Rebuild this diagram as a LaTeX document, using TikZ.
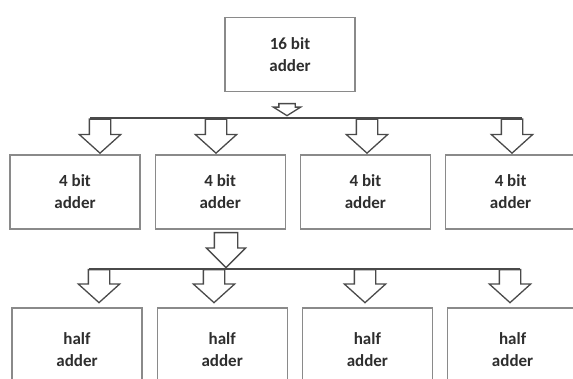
\documentclass[tikz,border=0pt]{standalone}
\usepackage{fontspec}
\setmainfont{Carlito}
\usetikzlibrary{positioning,shapes.arrows}

\definecolor{boxgray}{HTML}{8A8A8A}
\definecolor{linegray}{HTML}{4A4A4A}
\definecolor{textgray}{HTML}{2E2E2E}

\tikzset{
  block/.style={draw=boxgray, line width=1.2pt, minimum width=130pt, minimum height=74pt,
    inner sep=0pt, align=center, text=textgray, font=\fontsize{17}{22}\selectfont\bfseries},
  halfbox/.style={block, minimum height=84pt},
  fatarrow/.style={single arrow, draw=linegray, fill=white, line width=1.3pt,
    shape border rotate=270, inner xsep=10pt, inner ysep=0pt, minimum width=40pt, minimum height=34pt,
    single arrow head extend=10pt, single arrow tip angle=96},
  bus/.style={draw=linegray, line width=2pt}
}

\begin{document}
\begin{tikzpicture}[x=1pt,y=1pt]
  \clip (0,0) rectangle (573,-379);

  % Define nodes
  \node[block]                     (add16) at (290,-54.5) {16 bit\\adder};

  \node[block]                     (add4a) at (75,-192) {4 bit\\adder};
  \node[block, right=14pt of add4a] (add4b) {4 bit\\adder};
  \node[block, right=14pt of add4b] (add4c) {4 bit\\adder};
  \node[block, right=14pt of add4c] (add4d) {4 bit\\adder};

  \node[halfbox]                     (ha1) at (77,-350) {half\\adder};
  \node[halfbox, right=14pt of ha1]  (ha2) {half\\adder};
  \node[halfbox, right=14pt of ha2]  (ha3) {half\\adder};
  \node[halfbox, right=14pt of ha3]  (ha4) {half\\adder};

  % Block arrows
  \node[fatarrow, anchor=tail, inner xsep=7.5pt, minimum width=26pt, minimum height=12pt,
        single arrow head extend=5.5pt, single arrow tip angle=116] (split16) at (287,-103) {};

  \node[fatarrow, anchor=tail] (d1) at (100,-118.5) {};
  \node[fatarrow, anchor=tail] (d2) at (216,-118.5) {};
  \node[fatarrow, anchor=tail] (d3) at (367,-118.5) {};
  \node[fatarrow, anchor=tail] (d4) at (512,-118.5) {};

  \node[fatarrow, anchor=tail, inner xsep=11pt, minimum width=38pt, minimum height=35pt,
        single arrow head extend=8pt, single arrow tip angle=90] (split4) at (226,-232) {};

  \node[fatarrow, anchor=tail, minimum height=33pt] (h1) at (99,-269) {};
  \node[fatarrow, anchor=tail, minimum height=33pt] (h2) at (214,-269) {};
  \node[fatarrow, anchor=tail, minimum height=33pt] (h3) at (365,-269) {};
  \node[fatarrow, anchor=tail, minimum height=33pt] (h4) at (510,-269) {};

  % Connect the nodes
  \draw[bus] ([xshift=-10pt]d1.tail) -- ([xshift=10pt]d4.tail);
  \draw[bus] ([xshift=-10pt]h1.tail) -- ([xshift=10pt]h4.tail);
\end{tikzpicture}
\end{document}
